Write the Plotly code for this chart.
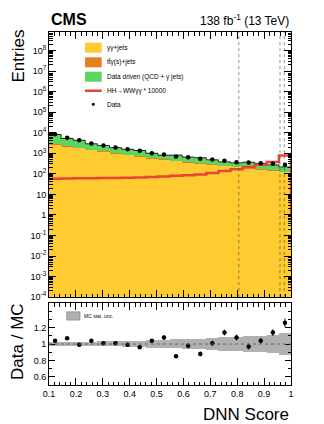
import numpy as np
import plotly.graph_objects as go

# DNN score binning: 20 bins between 0.1 and 1.0
bin_edges = np.linspace(0.1, 1.0, 21)
bin_centers = 0.5 * (bin_edges[:-1] + bin_edges[1:])
bin_width = bin_edges[1] - bin_edges[0]

# stacked backgrounds (entries per bin)
gg_jets = [2800, 2200, 1800, 1450, 1250, 1000, 850, 700, 580, 500,
           420, 370, 330, 290, 250, 220, 190, 165, 150, 125]
ttg_jets = [3, 3, 3, 2.5, 2.5, 2, 2, 2, 2, 2,
            2, 2, 2, 2, 2, 2, 2, 2, 2, 2]
data_driven = [5400, 3100, 2500, 1450, 1130, 880, 720, 670, 420, 300,
               390, 280, 280, 190, 130, 120, 175, 155, 120, 90]
# HH -> WWgg signal, scaled by 10000
hh_signal = [58, 59, 60, 61, 62, 63, 64, 66, 70, 74,
             80, 85, 92, 110, 135, 165, 215, 275, 380, 770]
data = [8500, 5700, 4250, 3000, 2400, 1900, 1550, 1320, 1000, 870,
        690, 640, 540, 490, 430, 365, 355, 330, 305, 275]

# ratio panel
ratio = [1.04, 1.07, 0.99, 1.04, 1.01, 1.01, 0.99, 0.96, 1.04, 1.08,
         0.85, 0.98, 0.88, 1.01, 1.14, 1.08, 0.97, 1.04, 1.14, 1.26]
ratio_err = [0.01, 0.01, 0.01, 0.01, 0.01, 0.015, 0.015, 0.02, 0.02, 0.025,
             0.025, 0.03, 0.03, 0.03, 0.035, 0.035, 0.035, 0.035, 0.04, 0.05]
mc_unc = [0.02, 0.02, 0.025, 0.025, 0.03, 0.03, 0.035, 0.04, 0.045, 0.05,
          0.055, 0.06, 0.065, 0.07, 0.08, 0.085, 0.095, 0.1, 0.115, 0.13]

# vertical category boundaries
boundaries = [0.806, 0.959, 0.975]

legend_labels = ["γγ+jets", "tt̄γ(s)+jets", "Data driven (QCD + γ jets)",
                 "HH→WWγγ * 10000", "Data"]

YELLOW = "#FECB31"
ORANGE = "#E67E22"
GREEN = "#5CD65C"
RED = "#E8453A"
FONT = "Liberation Sans"

total = [a + b + c for a, b, c in zip(gg_jets, ttg_jets, data_driven)]

fig = go.Figure()

for vals, col in [(gg_jets, YELLOW), (ttg_jets, ORANGE), (data_driven, GREEN)]:
    fig.add_trace(go.Bar(x=bin_centers, y=vals, width=bin_width, showlegend=False,
                         marker=dict(color=col, line=dict(width=0)),
                         xaxis="x", yaxis="y"))

# black outline of the total stack
fig.add_trace(go.Scatter(x=list(bin_edges), y=total + [total[-1]], mode="lines",
                         line=dict(color="black", width=0.8, shape="hv"),
                         showlegend=False, hoverinfo="skip", xaxis="x", yaxis="y"))

fig.add_trace(go.Scatter(x=list(bin_edges) + [bin_edges[-1]],
                         y=hh_signal + [hh_signal[-1], 1],
                         mode="lines", showlegend=False,
                         line=dict(color=RED, width=2.5, shape="hv"),
                         xaxis="x", yaxis="y"))

fig.add_trace(go.Scatter(x=bin_centers, y=data, mode="markers", showlegend=False,
                         marker=dict(color="black", size=4.5),
                         xaxis="x", yaxis="y"))

# ratio panel
fig.add_trace(go.Bar(x=bin_centers, y=[2 * u for u in mc_unc],
                     base=[1 - u for u in mc_unc], width=bin_width, showlegend=False,
                     marker=dict(color="#B0B0B0", line=dict(width=0)),
                     xaxis="x2", yaxis="y2"))
fig.add_trace(go.Scatter(x=bin_centers, y=ratio, mode="markers",
                         error_y=dict(type="data", array=ratio_err, color="black",
                                      thickness=1, width=0),
                         marker=dict(color="black", size=4.5), showlegend=False,
                         xaxis="x2", yaxis="y2"))

shapes = []
for b in boundaries:
    shapes.append(dict(type="line", xref="x", yref="y domain", x0=b, x1=b, y0=0, y1=1,
                       line=dict(color="#444444", width=0.6, dash="dot"), layer="above"))
shapes.append(dict(type="line", xref="x2", yref="y2", x0=0.1, x1=1.0, y0=1, y1=1,
                   line=dict(color="#666666", width=1, dash="dot"), layer="above"))

# hand-drawn ROOT-style legends (pixel positions -> axis-domain fractions)
def fx(px):
    return (px - 49) / 242.0


def fy(py):
    return (297 - py) / 265.0


def fy2(py):
    return (385 - py) / 82.0


annotations = []
rows = [47.7, 62.3, 76.7, 90.7, 104.3]
for yc, col in zip(rows[:3], [YELLOW, ORANGE, GREEN]):
    shapes.append(dict(type="rect", xref="x domain", yref="y domain",
                       x0=fx(85), x1=fx(101.7), y0=fy(yc + 5), y1=fy(yc - 5),
                       fillcolor=col, line=dict(width=0), layer="above"))
shapes.append(dict(type="line", xref="x domain", yref="y domain",
                   x0=fx(85), x1=fx(101.7), y0=fy(rows[3]), y1=fy(rows[3]),
                   line=dict(color=RED, width=2.5), layer="above"))
shapes.append(dict(type="circle", xref="x domain", yref="y domain",
                   x0=fx(91.8), x1=fx(94.8), y0=fy(rows[4] + 1.5), y1=fy(rows[4] - 1.5),
                   fillcolor="black", line=dict(width=0), layer="above"))
for yc, lab in zip(rows, legend_labels):
    annotations.append(dict(text=lab, xref="x domain", yref="y domain", x=fx(105),
                            y=fy(yc), xanchor="left", yanchor="middle", showarrow=False,
                            font=dict(family=FONT, size=6.5)))

shapes.append(dict(type="rect", xref="x2 domain", yref="y2 domain",
                   x0=fx(66.7), x1=fx(80), y0=fy2(320), y1=fy2(311.7),
                   fillcolor="#B0B0B0", line=dict(color="#777777", width=0.6),
                   layer="above"))
annotations.append(dict(text="MC stat. unc.", xref="x2 domain", yref="y2 domain",
                        x=fx(81.5), y=fy2(316), xanchor="left", yanchor="middle",
                        showarrow=False, font=dict(family=FONT, size=5)))

annotations += [
    dict(text="<b>CMS</b>", xref="paper", yref="paper", x=0, y=1, xanchor="left",
         yanchor="bottom", yshift=2, showarrow=False, font=dict(family=FONT, size=16)),
    dict(text="138 fb<sup>-1</sup> (13 TeV)", xref="paper", yref="paper", x=1, y=1,
         xanchor="right", yanchor="bottom", yshift=2, showarrow=False,
         font=dict(family=FONT, size=12)),
    dict(text="Entries", xref="paper", yref="paper", x=0, y=1, xanchor="center",
         yanchor="top", xshift=-31, yshift=4, textangle=-90, showarrow=False,
         font=dict(family=FONT, size=17)),
    dict(text="Data / MC", xref="paper", yref="paper", x=0, y=0.122, xanchor="center",
         yanchor="middle", xshift=-31, textangle=-90, showarrow=False,
         font=dict(family=FONT, size=17)),
    dict(text="DNN Score", xref="paper", yref="paper", x=1, y=0, xanchor="right",
         yanchor="middle", yshift=-29, showarrow=False, font=dict(family=FONT, size=17)),
]

axis_common = dict(showline=True, linecolor="black", linewidth=1, mirror="allticks",
                   ticks="inside", tickcolor="black", tickwidth=0.8, showgrid=False,
                   zeroline=False, tickfont=dict(family=FONT, size=9, color="black"))

minor_log = [m * 10.0 ** k for k in range(-4, 9) for m in range(2, 10)]
log_ticks = [10.0 ** k for k in range(-4, 9)]
log_text = []
for k in range(-4, 9):
    if k == 0:
        log_text.append("1")
    elif k == 1:
        log_text.append("10")
    else:
        log_text.append("10<sup>%d</sup>" % k)

# the page adds an 8px body margin, so the figure is 8px smaller than the window
fig.update_layout(
    width=316, height=416,
    margin=dict(l=41, r=33, t=24, b=39),
    paper_bgcolor="white", plot_bgcolor="white",
    barmode="stack", bargap=0, showlegend=False,
    font=dict(family=FONT, color="black"),
    xaxis=dict(axis_common, domain=[0, 1], range=[0.1, 1.0], anchor="y",
               showticklabels=False, dtick=0.1, tick0=0.1, ticklen=7,
               minor=dict(dtick=0.02, ticks="inside", ticklen=3.5, tickcolor="black")),
    yaxis=dict(axis_common, type="log", domain=[0.249, 1], range=[-4, 8.9], anchor="x",
               tickvals=log_ticks, ticktext=log_text, ticklen=7,
               minor=dict(tickvals=minor_log, ticks="inside", ticklen=3.5, tickcolor="black")),
    xaxis2=dict(axis_common, domain=[0, 1], range=[0.1, 1.0], anchor="y2",
                dtick=0.1, tick0=0.1, ticklen=7, tickformat=".1~f",
                minor=dict(dtick=0.02, ticks="inside", ticklen=3.5, tickcolor="black")),
    yaxis2=dict(axis_common, domain=[0, 0.232], range=[0.5, 1.5], anchor="x2",
                tickvals=[0.6, 0.8, 1.0, 1.2], ticktext=["0.6", "0.8", "1", "1.2"],
                ticklen=6,
                minor=dict(dtick=0.1, ticks="inside", ticklen=3, tickcolor="black")),
    shapes=shapes,
    annotations=annotations,
)

fig.write_html("out.html")
